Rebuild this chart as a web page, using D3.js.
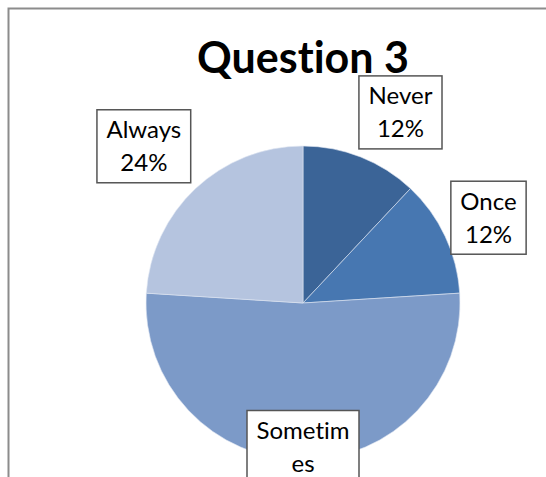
<!DOCTYPE html>
<html>
<head>
<meta charset="utf-8">
<script src="https://cdn.jsdelivr.net/npm/d3@7"></script>
<style>
  html, body { margin: 0; padding: 0; background: #fff; overflow: hidden; }
  svg { display: block; }
  text { font-variant-ligatures: none; }
</style>
</head>
<body>
<script>
// Survey answers for question 3
const categories = ["Never", "Once", "Sometimes", "Always"];
const percents = [12, 12, 52, 24];
const colors = ["#3b6497", "#4777b1", "#7c9ac8", "#b5c4df"];
const title = "Question 3";

const W = 546, H = 477;
const cx = 303, cy = 303, R = 157;

// label placement: radius along slice mid-angle plus a small nudge
const labelLayout = [
  { r: 205, dx: 22, dy: 0 },
  { r: 205, dx: 0, dy: 2 },
  { r: 150, dx: 0, dy: -6 },
  { r: 215, dx: -12, dy: 0 }
];

const svg = d3.select("body").append("svg")
  .attr("width", W).attr("height", H);

svg.append("rect")
  .attr("x", 8.5).attr("y", 8.5)
  .attr("width", W + 20).attr("height", H + 20)
  .attr("fill", "#fff")
  .attr("stroke", "#8c8c8c").attr("stroke-width", 2);

svg.append("text")
  .attr("x", cx).attr("y", 73)
  .attr("text-anchor", "middle")
  .attr("font-family", "Lato, 'Open Sans', sans-serif")
  .attr("font-weight", 700)
  .attr("font-size", 43)
  .attr("fill", "#000")
  .text(title);

const data = categories.map((c, i) => ({ category: c, value: percents[i], color: colors[i] }));

const pie = d3.pie().sort(null).value(d => d.value);
const arcs = pie(data);
const arc = d3.arc().innerRadius(0).outerRadius(R);

const g = svg.append("g").attr("transform", `translate(${cx},${cy})`);

g.selectAll("path.slice")
  .data(arcs)
  .join("path")
  .attr("class", "slice")
  .attr("d", arc)
  .attr("fill", d => d.data.color)
  .attr("stroke", "#dfe6f1")
  .attr("stroke-width", 0.6);

// wrap a label into lines of at most n characters
function wrapChars(s, n) {
  const out = [];
  for (let i = 0; i < s.length; i += n) out.push(s.slice(i, i + n));
  return out;
}

const fontSize = 24, lineH = 33, padX = 9.5, boxH = 73;

arcs.forEach((d, i) => {
  const L = labelLayout[i];
  const a = d3.arc().innerRadius(L.r).outerRadius(L.r);
  const [px, py] = a.centroid(d);
  const x = px + L.dx, y = py + L.dy;
  const lines = [...wrapChars(d.data.category, 7), d3.format(".0%")(d.data.value / 100)];
  const lg = g.append("g").attr("transform", `translate(${x},${y})`);
  const box = lg.append("rect");
  const txt = lg.append("text")
    .attr("text-anchor", "middle")
    .attr("font-family", "Lato, 'Open Sans', sans-serif")
    .attr("font-size", fontSize)
    .attr("fill", "#000");
  const n = lines.length;
  const h = boxH + (n - 2) * lineH;
  lines.forEach((t, k) => {
    txt.append("tspan")
      .attr("x", 0)
      .attr("y", -boxH / 2 + 28.5 + k * lineH)
      .text(t);
  });
  const w = txt.node().getBBox().width + padX * 2;
  box.attr("x", -w / 2).attr("y", -boxH / 2)
    .attr("width", w).attr("height", h)
    .attr("fill", "#fff")
    .attr("stroke", "#555")
    .attr("stroke-width", 1.5);
});
</script>
</body>
</html>
